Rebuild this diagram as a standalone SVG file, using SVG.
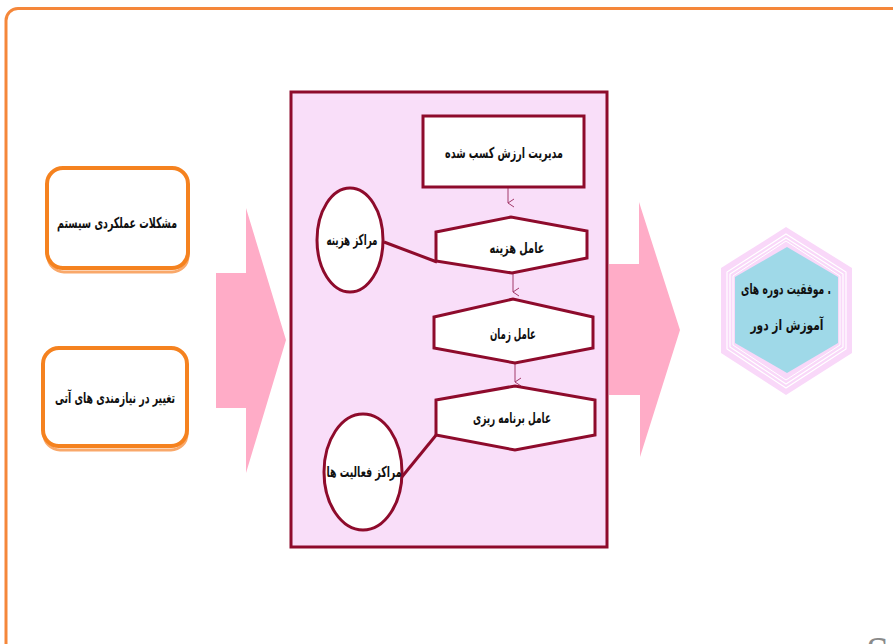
<svg xmlns="http://www.w3.org/2000/svg" width="893" height="644" viewBox="0 0 893 644">
<style>
.fa{font-family:"DejaVu Sans Condensed","DejaVu Sans",sans-serif;font-weight:bold;font-size:15px;fill:#111;text-anchor:middle;direction:rtl}
.dr{fill:#fff;stroke:#8E0B2C;stroke-width:3}
.ob{fill:#fff;stroke:#F5821F;stroke-width:4}
.sh{fill:none;stroke:#F9A86A;stroke-width:3}
.arrowbig{fill:#FFACC7}
.small{stroke:#A23A6A;stroke-width:1;fill:none}
.link{stroke:#8E0B2C;stroke-width:3;fill:none}
</style>
<defs>
<marker id="ah" markerWidth="10" markerHeight="10" refX="5" refY="8" orient="auto" markerUnits="userSpaceOnUse">
<path d="M1,2 L5,8 L9,2" fill="none" stroke="#A23A6A" stroke-width="1"/>
</marker>
</defs>
<rect width="893" height="644" fill="#fff"/>
<rect id="frame" x="6" y="8.5" width="900" height="650" rx="12" fill="none" stroke="#F5873A" stroke-width="3"/>

<g id="box-problems">
<rect class="sh" x="48" y="171" width="140" height="101" rx="16"/>
<rect class="ob" x="47" y="168" width="141" height="100" rx="16"/>
<text class="fa" x="117" y="228" font-size="17" textLength="120" lengthAdjust="spacingAndGlyphs">مشکلات عملکردی سیستم</text>
</g>
<g id="box-needs">
<rect class="sh" x="44" y="351" width="143" height="99" rx="16"/>
<rect class="ob" x="43" y="348" width="144" height="98" rx="16"/>
<text class="fa" x="115" y="403" font-size="17" textLength="120" lengthAdjust="spacingAndGlyphs">تغییر در نیازمندی های آتی</text>
</g>

<g id="arrow-left">
<polygon class="arrowbig" points="216,273 246,273 246,208 286,340 246,473 246,408 216,408"/>
</g>

<g id="panel">
<rect x="291" y="92" width="316" height="455" fill="#F9DEF9" stroke="#8E0B2C" stroke-width="3"/>
</g>

<g id="arrow-right">
<polygon class="arrowbig" points="609,264 639,264 639,202 680,330 640,457 640,395 609,395"/>
</g>

<g id="connectors">
<line class="small" x1="508" y1="188" x2="508" y2="203" marker-end="url(#ah)"/>
<line class="small" x1="513" y1="274" x2="513" y2="292" marker-end="url(#ah)"/>
<line class="small" x1="515" y1="364" x2="515" y2="382" marker-end="url(#ah)"/>
<line class="link" x1="384" y1="242" x2="437" y2="262"/>
<line class="link" x1="437" y1="434" x2="401" y2="478"/>
</g>

<g id="n-evm">
<rect class="dr" x="423" y="116" width="161" height="71"/>
<text class="fa" x="504" y="158" font-size="17" textLength="118" lengthAdjust="spacingAndGlyphs">مدیریت ارزش کسب شده</text>
</g>
<g id="n-cost">
<polygon class="dr" points="436,232 511,217 587,231 587,258 512,273 436,261"/>
<text class="fa" x="517" y="253" textLength="55" lengthAdjust="spacingAndGlyphs">عامل هزینه</text>
</g>
<g id="n-time">
<polygon class="dr" points="434,317 513,299 593,317 593,348 515,363 434,348"/>
<text class="fa" x="513" y="339" textLength="46" lengthAdjust="spacingAndGlyphs">عامل زمان</text>
</g>
<g id="n-plan">
<polygon class="dr" points="436,400 515,386 595,400 595,435 515,450 436,435"/>
<text class="fa" x="512" y="423" textLength="78" lengthAdjust="spacingAndGlyphs">عامل برنامه ریزی</text>
</g>
<g id="n-costcenters">
<ellipse class="dr" cx="350" cy="240" rx="33" ry="52"/>
<text class="fa" x="352" y="245" textLength="51" lengthAdjust="spacingAndGlyphs">مراکز هزینه</text>
</g>
<g id="n-activity">
<ellipse class="dr" cx="363" cy="472" rx="39" ry="58"/>
<text class="fa" x="364" y="477" font-size="16" textLength="75" lengthAdjust="spacingAndGlyphs">مراکز فعالیت ها</text>
</g>

<g id="n-success">
<polygon points="786,227 852,268 852,353 786,395 721,353 721,268" fill="#F9D8F9"/>
<polygon points="786,234 846,272 846,349 786,388 727,349 727,272" fill="none" stroke="#fff" stroke-width="1.2"/>
<polygon points="786,238 843,274 843,347 786,384 730,347 730,274" fill="none" stroke="#fff" stroke-width="1.2"/>
<polygon points="786,241 840,276 840,345 786,380 733,345 733,276" fill="none" stroke="#fff" stroke-width="1"/>
<polygon points="787,247 838,277 838,343 787,373 735,343 735,277" fill="#9FD9E8"/>
<text class="fa" x="786" y="294" textLength="90" lengthAdjust="spacingAndGlyphs">. موفقیت دوره های</text>
<text class="fa" x="787" y="330" textLength="73" lengthAdjust="spacingAndGlyphs">آموزش از دور</text>
</g>

<text x="866" y="666" font-family="Liberation Serif, serif" font-size="42" fill="#8A8A8A">S</text>
</svg>
